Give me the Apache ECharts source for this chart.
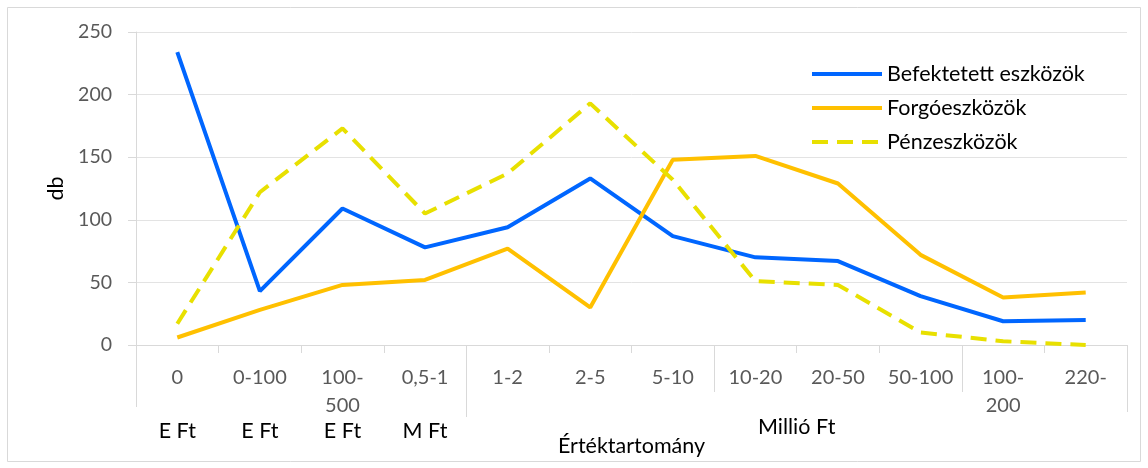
<!DOCTYPE html>
<html>
<head>
<meta charset="utf-8">
<script src="https://cdn.jsdelivr.net/npm/echarts@6/dist/echarts.min.js"></script>
<style>
html,body{margin:0;padding:0;background:#fff;}
#c{width:1148px;height:468px;}
</style>
</head>
<body>
<div id="c"></div>
<script>
var categories = ['0', '0-100', '100-\n500', '0,5-1', '1-2', '2-5', '5-10', '10-20', '20-50', '50-100', '100-\n200', '220-'];
var unitLabels = ['E Ft', 'E Ft', 'E Ft', 'M Ft', '', '', '', '', '', '', '', ''];
var groupLabel = 'Millió Ft';
var befektetett = [234, 43, 109, 78, 94, 133, 87, 70, 67, 39, 19, 20];
var forgo = [6, 28, 48, 52, 77, 30, 148, 151, 129, 72, 38, 42];
var penz = [17, 122, 173, 105, 137, 193, 132, 51, 48, 10, 3, 0];
var yTicks = {min: 0, max: 250, interval: 50};

var FONT = 'Lato';
var chart = echarts.init(document.getElementById('c'));
var option = {
  animation: false,
  backgroundColor: '#fff',
  grid: {left: 136, right: 21, top: 32, bottom: 123},
  legend: {
    orient: 'vertical', left: 805, top: 58,
    itemWidth: 70, itemHeight: 14, itemGap: 12,
    itemStyle: {opacity: 0},
    lineStyle: {width: 4},
    textStyle: {fontFamily: FONT, fontSize: 21.5, color: '#000'},
    data: ['Befektetett eszközök', 'Forgóeszközök', 'Pénzeszközök']
  },
  xAxis: [{
    type: 'category', data: categories, boundaryGap: true,
    name: 'Értéktartomány', nameLocation: 'middle', nameGap: 90,
    nameTextStyle: {fontFamily: FONT, fontSize: 21.5, color: '#000'},
    axisLine: {lineStyle: {color: '#d9d9d9', width: 1}},
    axisTick: {show: true, length: 8, alignWithLabel: false, lineStyle: {color: '#d9d9d9'}},
    axisLabel: {fontFamily: FONT, fontSize: 20, color: '#595959', margin: 19, lineHeight: 28, interval: 0}
  }, {
    type: 'category', data: unitLabels, position: 'bottom', gridIndex: 0,
    axisLine: {show: false}, axisTick: {show: false},
    axisLabel: {fontFamily: FONT, fontSize: 21.5, color: '#000', margin: 75, interval: 0}
  }],
  yAxis: {
    type: 'value', min: yTicks.min, max: yTicks.max, interval: yTicks.interval,
    name: 'db', nameLocation: 'middle', nameGap: 66,
    nameTextStyle: {fontFamily: FONT, fontSize: 21.5, color: '#000'},
    axisLine: {show: true, lineStyle: {color: '#d9d9d9'}},
    axisTick: {show: true, length: 8, lineStyle: {color: '#d9d9d9'}},
    axisLabel: {fontFamily: FONT, fontSize: 19.5, color: '#595959', margin: 24},
    splitLine: {lineStyle: {color: '#e3e3e3'}}
  },
  series: [{
    name: 'Befektetett eszközök', type: 'line', data: befektetett, symbol: 'none',
    lineStyle: {color: '#0066ff', width: 4}, itemStyle: {color: '#0066ff'}
  }, {
    name: 'Forgóeszközök', type: 'line', data: forgo, symbol: 'none',
    lineStyle: {color: '#ffc000', width: 4}, itemStyle: {color: '#ffc000'}
  }, {
    name: 'Pénzeszközök', type: 'line', data: penz, symbol: 'none',
    lineStyle: {color: '#e8e000', width: 4, type: [16, 9]}, itemStyle: {color: '#e8e000'}
  }]
};
chart.setOption(option);

// decorations derived from the category scale
var c0 = chart.convertToPixel({xAxisIndex: 0}, 0);
var c1 = chart.convertToPixel({xAxisIndex: 0}, 1);
var half = (c1 - c0) / 2;
var y0 = chart.convertToPixel({yAxisIndex: 0}, 0);
function boundary(i) { return chart.convertToPixel({xAxisIndex: 0}, Math.min(i, categories.length - 1)) + (i >= categories.length ? half : -half); }
var g = [];
[[0, 62], [4, 72], [12, 67]].forEach(function (p) {
  var x = Math.round(boundary(p[0])) + 0.5;
  g.push({type: 'line', shape: {x1: x, y1: y0, x2: x, y2: y0 + p[1]}, style: {stroke: '#d9d9d9', lineWidth: 1}, silent: true});
});
[7, 10].forEach(function (i) {
  var x = Math.round(boundary(i)) + 0.5;
  g.push({type: 'line', shape: {x1: x, y1: y0, x2: x, y2: y0 + 47}, style: {stroke: '#d9d9d9', lineWidth: 1}, silent: true});
});
var gx = (boundary(4) + boundary(12)) / 2;
g.push({type: 'text', x: gx, y: y0 + 82, style: {text: groupLabel, fontFamily: FONT, fontSize: 21.5, fill: '#000', textAlign: 'center', textVerticalAlign: 'middle'}, silent: true});
g.push({type: 'rect', shape: {x: 7.5, y: 7.5, width: 1133, height: 454}, style: {fill: null, stroke: '#d9d9d9', lineWidth: 1}, silent: true, z: -1});
chart.setOption({graphic: g});
</script>
</body>
</html>
